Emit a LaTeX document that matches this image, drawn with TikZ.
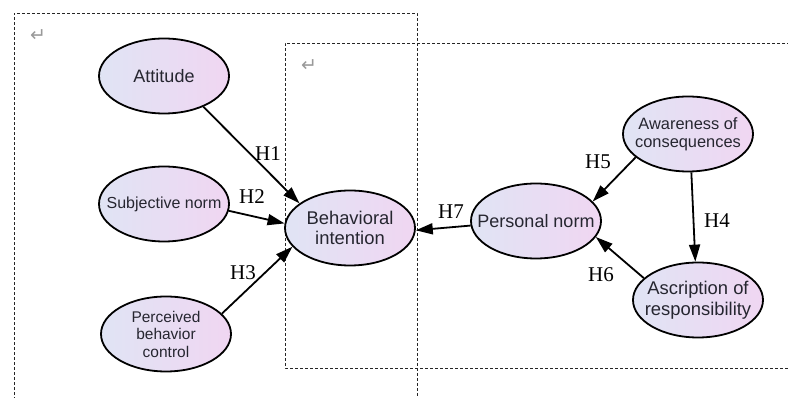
\documentclass[tikz,border=0pt]{standalone}
\usepackage{fontspec}
\setmainfont{Liberation Serif}
\newfontfamily\arialf{Liberation Sans}
\newfontfamily\symf{DejaVu Sans}
\usetikzlibrary{shapes.geometric,arrows.meta}
\definecolor{shadeL}{RGB}{224,228,244}
\definecolor{shadeR}{RGB}{240,214,242}
\definecolor{txtc}{RGB}{38,38,48}
\tikzset{
  construct/.style={ellipse, draw=black, line width=1.8pt, minimum width=130pt, minimum height=75pt,
    inner sep=0pt, left color=shadeL, right color=shadeR},
  ctext/.style={text=txtc, align=center, inner sep=0pt},
  hyp/.style={-{Triangle[length=17pt,width=11pt]}, line width=1.8pt, black},
  hlab/.style={font=\fontsize{21}{21}\selectfont, inner sep=0pt},
  frame/.style={dashed, dash pattern=on 3pt off 2pt, line width=0.9pt, black!85},
  retmark/.style={font=\symf\fontsize{19}{19}\selectfont, text=black!40, inner sep=0pt}
}
\begin{document}
\begin{tikzpicture}[x=1pt,y=-1pt]
\useasboundingbox (0,0) rectangle (788,398);
% frames
\draw[frame] (14,410) -- (14,13) -- (417,13) -- (417,410);
\draw[frame] (800,43) -- (285,43) -- (285,368) -- (800,368);
\node[retmark] (r1) at (38,36) {↵};
\node[retmark] (r2) at (309,66) {↵};
% constructs
\node[construct] (att) at (164,76) {};
\node[construct] (sn) at (164,204) {};
\node[construct] (pbc) at (166,334) {};
\node[construct] (bi) at (350,228) {};
\node[construct] (pn) at (536,221) {};
\node[construct] (ac) at (688,134) {};
\node[construct] (ar) at (698,300) {};
\node[ctext, font=\arialf\fontsize{18}{20}\selectfont] (tatt) at (att.center) {Attitude};
\node[ctext, font=\arialf\fontsize{16}{18}\selectfont] (tsn) at (sn.center) {Subjective norm};
\node[ctext, font=\arialf\fontsize{15.5}{17.5}\selectfont] (tpbc) at (pbc.center) {Perceived\\behavior\\control};
\node[ctext, font=\arialf\fontsize{18.4}{20}\selectfont] (tbi) at (bi.center) {Behavioral\\intention};
\node[ctext, font=\arialf\fontsize{18}{20}\selectfont] (tpn) at (pn.center) {Personal norm};
\node[ctext, font=\arialf\fontsize{16.4}{18}\selectfont] (tac) at (ac.center) {Awareness of\\consequences};
\node[ctext, font=\arialf\fontsize{18.4}{21.5}\selectfont] (tar) at (ar.center) {Ascription of\\responsibility};
% arrows
\draw[hyp] (att.-38) -- (bi.154);
\draw[hyp] (sn.-6) -- (bi.176);
\draw[hyp] (pbc.20) -- (bi.198);
\draw[hyp] (pn.184) -- (bi.358);
\draw[hyp] (ac.204) -- (pn.19);
\draw[hyp] (ac.-85) -- (ar.94);
\draw[hyp] (ar.158) -- (pn.-15);
% labels
\node[hlab] (h1) at (268,154) {H1};
\node[hlab] (h2) at (252,197) {H2};
\node[hlab] (h3) at (243,273) {H3};
\node[hlab] (h4) at (717,221) {H4};
\node[hlab] (h5) at (598,162) {H5};
\node[hlab] (h6) at (601,275) {H6};
\node[hlab] (h7) at (451,212) {H7};
\end{tikzpicture}
\end{document}
